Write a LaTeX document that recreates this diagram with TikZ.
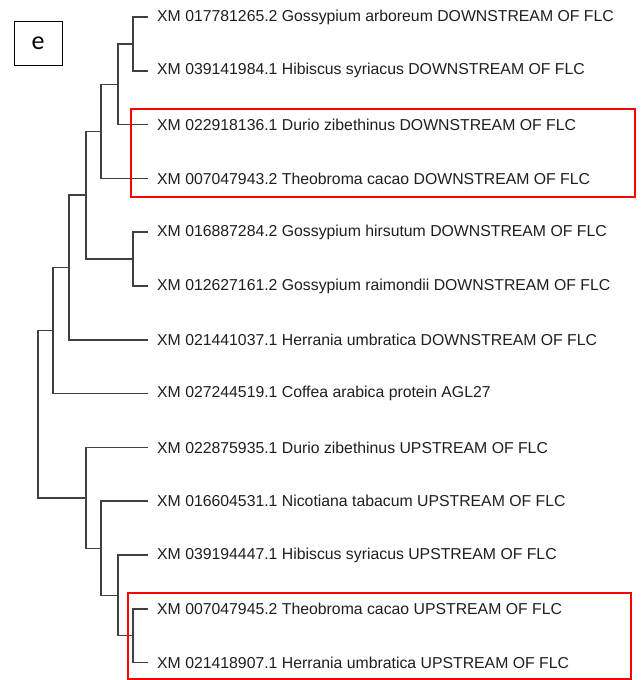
\documentclass[tikz,border=0pt]{standalone}
\usepackage{fontspec}
\setmainfont{Liberation Sans}
\newfontfamily\labelfont{Carlito}
\begin{document}
\begin{tikzpicture}[x=1pt,y=-1pt,
  branch/.style={draw=black!75,line width=1.5pt},
  leaf/.style={anchor=west,inner sep=0pt,font=\fontsize{15.8}{17}\selectfont,text=black!88},
  redbox/.style={draw=red,line width=2pt},
  tagbox/.style={draw=black,line width=0.9pt}]
\useasboundingbox (0,0) rectangle (640,680);
\fill[white] (0,0) rectangle (640,680);
% tips
\foreach \i/\y in {0/17,1/70.8,2/124.6,3/178.4,4/232.2,5/286,6/339.8,7/393.6,8/447.4,9/501.2,10/555,11/608.8,12/662.6}{
  \coordinate (t\i) at (148,\y);
}
\node[leaf] (l0) at (157,17) {XM 017781265.2 Gossypium arboreum DOWNSTREAM OF FLC};
\node[leaf] (l1) at (157,70.8) {XM 039141984.1 Hibiscus syriacus DOWNSTREAM OF FLC};
\node[leaf] (l2) at (157,124.6) {XM 022918136.1 Durio zibethinus DOWNSTREAM OF FLC};
\node[leaf] (l3) at (157,178.4) {XM 007047943.2 Theobroma cacao DOWNSTREAM OF FLC};
\node[leaf] (l4) at (157,232.2) {XM 016887284.2 Gossypium hirsutum DOWNSTREAM OF FLC};
\node[leaf] (l5) at (157,286) {XM 012627161.2 Gossypium raimondii DOWNSTREAM OF FLC};
\node[leaf] (l6) at (157,339.8) {XM 021441037.1 Herrania umbratica DOWNSTREAM OF FLC};
\node[leaf] (l7) at (157,393.6) {XM 027244519.1 Coffea arabica protein AGL27};
\node[leaf] (l8) at (157,447.4) {XM 022875935.1 Durio zibethinus UPSTREAM OF FLC};
\node[leaf] (l9) at (157,501.2) {XM 016604531.1 Nicotiana tabacum UPSTREAM OF FLC};
\node[leaf] (l10) at (157,555) {XM 039194447.1 Hibiscus syriacus UPSTREAM OF FLC};
\node[leaf] (l11) at (157,608.8) {XM 007047945.2 Theobroma cacao UPSTREAM OF FLC};
\node[leaf] (l12) at (157,662.6) {XM 021418907.1 Herrania umbratica UPSTREAM OF FLC};
% internal nodes
\coordinate (A) at (133,43.9);
\coordinate (B) at (118,84.25);
\coordinate (C) at (101,131.3);
\coordinate (D) at (133,259.1);
\coordinate (E) at (86,195.2);
\coordinate (F) at (69,267.5);
\coordinate (G) at (53,330.5);
\coordinate (U4) at (133,635.7);
\coordinate (U3) at (118,595.3);
\coordinate (U2) at (101,548.3);
\coordinate (U1) at (86,497.8);
\coordinate (R) at (38,414.2);
% branches
\draw[branch] (t0) -| (A) |- (t1);
\draw[branch] (A) -| (B) |- (t2);
\draw[branch] (B) -| (C) |- (t3);
\draw[branch] (t4) -| (D) |- (t5);
\draw[branch] (C) -| (E) |- (D);
\draw[branch] (E) -| (F) |- (t6);
\draw[branch] (F) -| (G) |- (t7);
\draw[branch] (t11) -| (U4) |- (t12);
\draw[branch] (t10) -| (U3) |- (U4);
\draw[branch] (t9) -| (U2) |- (U3);
\draw[branch] (t8) -| (U1) |- (U2);
\draw[branch] (G) -| (R) |- (U1);
% highlight boxes
\draw[redbox] (131,109) rectangle (635,197);
\draw[redbox] (128,593) rectangle (631,678.5);
% panel tag
\node[tagbox,minimum width=48pt,minimum height=44pt,inner sep=0pt,font=\labelfont\fontsize{26}{28}\selectfont] (tag) at (38,43) {e};
\end{tikzpicture}
\end{document}
